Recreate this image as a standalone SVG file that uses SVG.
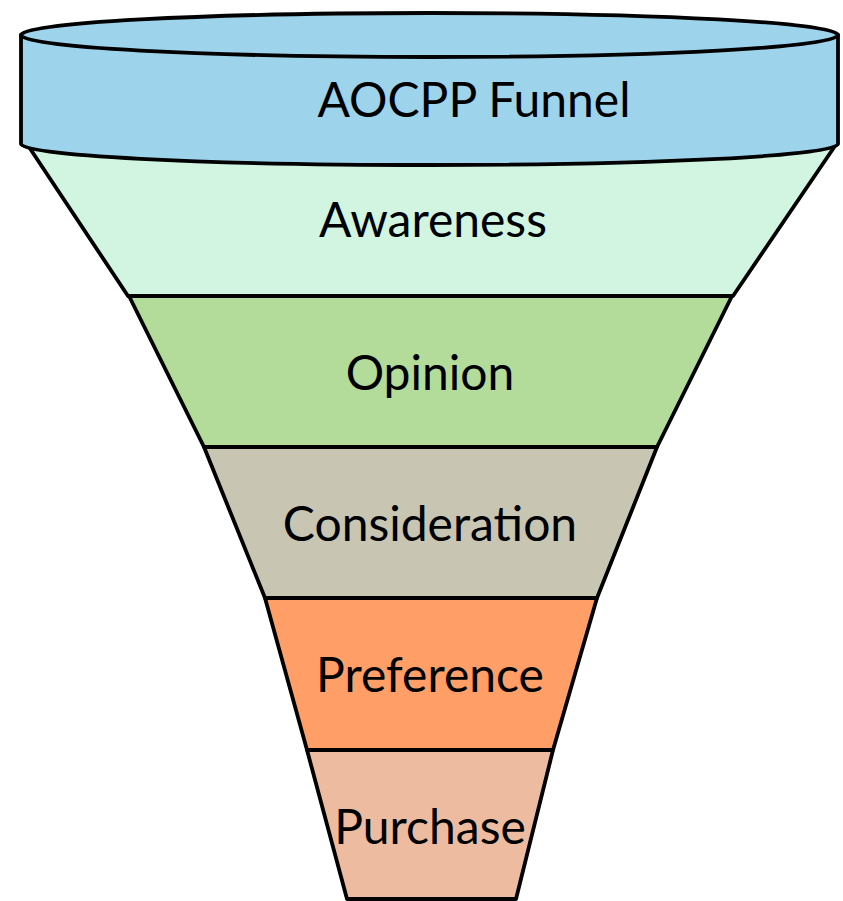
<svg xmlns="http://www.w3.org/2000/svg" width="843" height="901" viewBox="0 0 843 901">
<style>
.s{stroke:#000;stroke-width:3.8;stroke-linejoin:round}
.t{font-family:Lato,"Liberation Sans",sans-serif;font-size:48px;fill:#000;text-anchor:middle}
</style>
<rect width="843" height="901" fill="#fff"/>
<g id="purchase">
<path class="s" d="M307,750 L553,750 L516,899 L347,899 Z" fill="#EDBB9F"/>
<text class="t" x="430" y="844">Purchase</text>
</g>
<g id="preference">
<path class="s" d="M265,598 L597,598 L553,750 L307,750 Z" fill="#FF9E66"/>
<text class="t" x="430" y="692">Preference</text>
</g>
<g id="consideration">
<path class="s" d="M204,447 L657,447 L597,598 L265,598 Z" fill="#C9C5B3"/>
<text class="t" x="430" y="541">Consideration</text>
</g>
<g id="opinion">
<path class="s" d="M129,296 L732,296 L657,447 L204,447 Z" fill="#B3DB99"/>
<text class="t" x="430" y="390">Opinion</text>
</g>
<g id="awareness">
<path class="s" d="M29,147 L837,143 L733,296 L128,296 Z" fill="#D1F5E0"/>
<text class="t" x="433" y="237">Awareness</text>
</g>
<g id="funnel-top">
<path class="s" d="M21,35 L21,144 A408.5,21 0 0 0 838,144 L838,35 Z" fill="#9DD3EB"/>
<ellipse class="s" cx="429.5" cy="35" rx="408.5" ry="22" fill="#9DD3EB"/>
<text class="t" x="474" y="117">AOCPP Funnel</text>
</g>
</svg>
